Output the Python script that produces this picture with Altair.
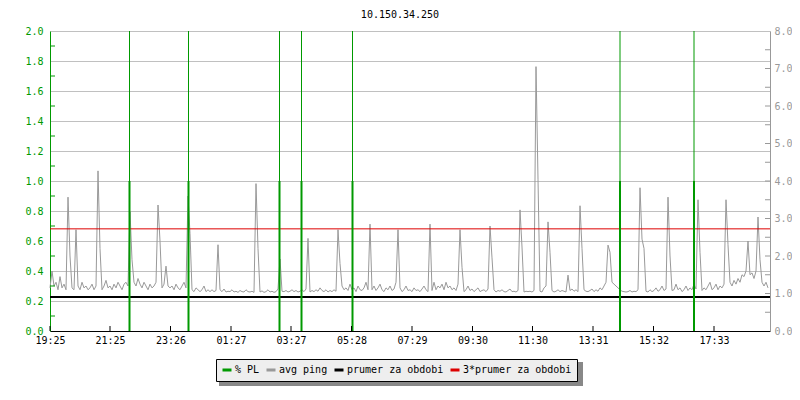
import altair as alt
import pandas as pd

# ---------------- data ----------------
title_text = "10.150.34.250"
series_names = ["% PL", "avg ping", "prumer za obdobi", "3*prumer za obdobi"]
series_colors = ["#009900", "#999999", "#000000", "#dd0000"]

# avg ping (ms, right axis), one sample every 4 minutes from 19:25
ping_base = [
    1.15, 1.60, 1.20, 1.30, 1.10, 1.45, 1.15, 1.25, 1.10, 1.20, 1.30, 1.15, 1.10, 1.25, 1.20, 1.10, 1.30, 1.15, 1.20, 1.10,
    1.15, 1.25, 1.10, 1.20, 1.30, 1.15, 1.10, 1.20, 1.35, 1.15, 1.20, 1.10, 1.25, 1.15, 1.30, 1.20, 1.10, 1.25, 1.30, 1.20,
    1.35, 1.25, 1.30, 1.20, 1.40, 1.25, 1.15, 1.30, 1.20, 1.10, 1.25, 1.15, 1.20, 1.30, 1.10, 1.20, 1.15, 1.25, 1.10, 1.20,
    1.15, 1.20, 1.10, 1.25, 1.15, 1.10, 1.20, 1.30, 1.15, 1.10, 1.20, 1.10, 1.05, 1.15, 1.10, 1.05, 1.10, 1.20, 1.05, 1.10,
    1.05, 1.10, 1.05, 1.08, 1.04, 1.10, 1.05, 1.12, 1.04, 1.06, 1.05, 1.10, 1.04, 1.06, 1.03, 1.08, 1.05, 1.04, 1.10, 1.05,
    1.04, 1.06, 1.03, 1.08, 1.05, 1.04, 1.07, 1.03, 1.05, 1.10, 1.04, 1.06, 1.03, 1.05, 1.12, 1.04, 1.06, 1.05, 1.08, 1.04,
    1.06, 1.10, 1.05, 1.08, 1.04, 1.06, 1.10, 1.05, 1.12, 1.06, 1.04, 1.08, 1.05, 1.10, 1.06, 1.15, 1.08, 1.05, 1.10, 1.04,
    1.08, 1.05, 1.10, 1.06, 1.12, 1.05, 1.20, 1.10, 1.15, 1.08, 1.25, 1.10, 1.15, 1.05, 1.20, 1.10, 1.08, 1.15, 1.30, 1.10,
    1.15, 1.10, 1.20, 1.08, 1.15, 1.25, 1.10, 1.05, 1.15, 1.10, 1.20, 1.08, 1.12, 1.30, 1.10, 1.15, 1.05, 1.10, 1.20, 1.08,
    1.10, 1.05, 1.15, 1.08, 1.10, 1.05, 1.12, 1.20, 1.10, 1.05, 1.15, 1.08, 1.30, 1.10, 1.20, 1.15, 1.25, 1.10, 1.30, 1.15,
    1.20, 1.10, 1.15, 1.08, 1.25, 1.10, 1.15, 1.05, 1.10, 1.20, 1.08, 1.12, 1.05, 1.10, 1.15, 1.05, 1.08, 1.10, 1.05, 1.12,
    1.08, 1.05, 1.10, 1.04, 1.08, 1.06, 1.10, 1.05, 1.04, 1.08, 1.12, 1.05, 1.06, 1.04, 1.08, 1.05, 1.10, 1.04, 1.06, 1.05,
    1.06, 1.04, 1.08, 1.05, 1.10, 1.06, 1.04, 1.15, 1.20, 1.10, 1.06, 1.08, 1.04, 1.06, 1.10, 1.05, 1.08, 1.06, 1.04, 1.10,
    1.08, 1.12, 1.06, 1.10, 1.05, 1.08, 1.04, 1.10, 1.06, 1.05, 1.08, 1.12, 1.05, 1.10, 1.06, 1.15, 1.10, 1.20, 1.30, 1.25,
    1.40, 1.30, 1.25, 1.20, 1.15, 1.10, 1.06, 1.05, 1.04, 1.05, 1.08, 1.04, 1.06, 1.05, 1.10, 1.04, 1.08, 1.05, 1.06, 1.04,
    1.10, 1.05, 1.08, 1.15, 1.06, 1.10, 1.20, 1.08, 1.12, 1.05, 1.15, 1.08, 1.10, 1.25, 1.10, 1.15, 1.05, 1.10, 1.20, 1.08,
    1.15, 1.10, 1.25, 1.12, 1.10, 1.20, 1.08, 1.15, 1.10, 1.20, 1.30, 1.10, 1.15, 1.25, 1.10, 1.20, 1.15, 1.25, 1.30, 1.20,
    1.30, 1.20, 1.35, 1.25, 1.40, 1.30, 1.50, 1.45, 1.60, 1.80, 1.50, 1.55, 1.40, 1.60, 1.35, 1.45, 1.30, 1.20, 1.30, 1.15,
]
# ping spikes: sample index and value (ms)
spike_idx = [9, 10, 13, 24, 25, 40, 41, 54, 55, 58, 69, 70, 84, 103, 104, 115, 129, 144, 145,
             160, 174, 190, 205, 206, 220, 221, 235, 236, 243, 244, 249, 250, 259, 265, 266,
             279, 280, 295, 296, 297, 309, 310, 324, 325, 338, 339, 349, 354, 355]
spike_ms = [3.57, 2.00, 2.70, 4.27, 2.20, 3.18, 1.90, 3.36, 2.40, 1.73, 3.60, 2.60, 2.30, 3.93, 2.20, 1.92, 2.47, 2.70, 1.80,
            2.85, 2.70, 2.85, 2.70, 1.70, 2.80, 1.95, 3.23, 2.24, 7.05, 4.05, 2.91, 2.10, 1.49, 3.34, 2.20,
            2.29, 2.10, 3.82, 2.45, 2.20, 3.57, 2.00, 3.50, 2.10, 3.50, 2.30, 2.40, 3.04, 1.90]

# packet loss events
pl_times = ["2024-01-01T22:04:00", "2024-01-02T00:02:00", "2024-01-02T03:04:00", "2024-01-02T03:48:00",
            "2024-01-02T05:30:00", "2024-01-02T14:25:00", "2024-01-02T16:53:00"]
pl_bar = [1.0, 1.0, 1.0, 1.0, 1.0, 1.0, 1.0]
pl_line = [2.0, 2.0, 2.0, 2.0, 2.0, 2.0, 2.0]

prumer = 0.227

# x tick labels (day, hour, minute)
x_ticks = [(1, 19, 25), (1, 21, 25), (1, 23, 26), (2, 1, 27), (2, 3, 27), (2, 5, 28),
           (2, 7, 29), (2, 9, 30), (2, 11, 30), (2, 13, 31), (2, 15, 32), (2, 17, 33)]
left_ticks = [0.0, 0.2, 0.4, 0.6, 0.8, 1.0, 1.2, 1.4, 1.6, 1.8, 2.0]
left_minor = [0.1, 0.3, 0.5, 0.7, 0.9, 1.1, 1.3, 1.5, 1.7, 1.9]
right_ticks = [0, 1, 2, 3, 4, 5, 6, 7, 8]
right_minor = [0.5, 1.0, 1.5, 2.0, 2.5, 3.0, 3.5, 4.0, 4.5, 5.0, 5.5, 6.0, 6.5, 7.0, 7.5]

# ---------------- tables ----------------
ping_vals = list(ping_base)
for i, v in zip(spike_idx, spike_ms):
    ping_vals[i] = v
times = pd.date_range("2024-01-01 19:25", periods=len(ping_vals), freq="4min").strftime("%Y-%m-%dT%H:%M:%S")
df_ping = pd.DataFrame({"t": times, "ms": ping_vals, "series": "avg ping"})
df_pl = pd.DataFrame({"t": pl_times, "bar": pl_bar, "line": pl_line, "zero": 0.0, "series": "% PL"})
df_avg = pd.DataFrame({"y": [prumer], "series": ["prumer za obdobi"]})
df_avg3 = pd.DataFrame({"y": [3 * prumer], "series": ["3*prumer za obdobi"]})
df_lminor = pd.DataFrame({"y": left_minor})
df_rminor = pd.DataFrame({"y": right_minor})
tick_dts = [alt.DateTime(year=2024, month=1, date=d, hours=h, minutes=m) for d, h, m in x_ticks]
df_xticks = pd.DataFrame({"t": [f"2024-01-0{d}T{h:02d}:{m:02d}:00" for d, h, m in x_ticks]})
df_shadow = pd.DataFrame({"k": [0]})

FONT = "DejaVu Sans Mono"
W, H = 720, 300
LEG_X, LEG_Y = 166, 328
LEG_W, LEG_H = 364, 24

x_scale = alt.Scale(domain=[alt.DateTime(year=2024, month=1, date=1, hours=19, minutes=25),
                            alt.DateTime(year=2024, month=1, date=2, hours=19, minutes=25)])
x_axis = alt.Axis(values=tick_dts, format="%H:%M", title=None, grid=False, ticks=False,
                  labelFont=FONT, labelFontSize=10, labelColor="#000000", domainColor="#000000",
                  labelPadding=4, labelFlush=False, labelOverlap=False)
x_enc = alt.X("t:T", scale=x_scale, axis=x_axis)
left_scale = alt.Scale(domain=[0, 2], nice=False, zero=True)
right_scale = alt.Scale(domain=[0, 8], nice=False, zero=True)

legend = alt.Legend(title=None, orient="none", legendX=LEG_X, legendY=LEG_Y, direction="horizontal",
                    columns=4, symbolType="stroke", symbolSize=81, symbolStrokeWidth=3,
                    labelFont=FONT, labelFontSize=10, labelColor="#000000", labelOffset=2,
                    columnPadding=0, padding=5, fillColor="#eeeeee", strokeColor="#000000")
color_enc = alt.Color("series:N", scale=alt.Scale(domain=series_names, range=series_colors), legend=legend)

shadow = alt.Chart(df_shadow).mark_rect(color="#888888").encode(
    x=alt.value(LEG_X + 3), x2=alt.value(LEG_X + 3 + LEG_W),
    y=alt.value(LEG_Y + 3), y2=alt.value(LEG_Y + 3 + LEG_H))

ping = alt.Chart(df_ping).mark_line(strokeWidth=1, interpolate="linear").encode(
    x=x_enc,
    y=alt.Y("ms:Q", scale=right_scale,
            axis=alt.Axis(orient="right", values=right_ticks, format=".1f", title=None, grid=False,
                          ticks=False, labelFont=FONT, labelFontSize=10, labelColor="#999999",
                          domainColor="#999999", labelPadding=4)),
    color=color_enc)

avg = alt.Chart(df_avg).mark_rule(strokeWidth=2).encode(
    y=alt.Y("y:Q", scale=left_scale,
            axis=alt.Axis(values=left_ticks, format=".1f", title=None, grid=True, gridColor="#c0c0c0",
                          ticks=False, labelFont=FONT, labelFontSize=10, labelColor="#009900",
                          domainColor="#009900", labelPadding=7)),
    color=color_enc)

avg3 = alt.Chart(df_avg3).mark_rule(strokeWidth=1).encode(
    y=alt.Y("y:Q", scale=left_scale, axis=None), color=color_enc)

pl_thin = alt.Chart(df_pl).mark_rule(strokeWidth=1).encode(
    x=x_enc, y=alt.Y("line:Q", scale=left_scale, axis=None), y2="zero:Q", color=color_enc)
pl_thick = alt.Chart(df_pl).mark_rule(strokeWidth=2).encode(
    x=x_enc, y=alt.Y("bar:Q", scale=left_scale, axis=None), y2="zero:Q", color=color_enc)

lminor = alt.Chart(df_lminor).mark_rule(color="#009900", strokeWidth=1).encode(
    y=alt.Y("y:Q", scale=left_scale, axis=None), x=alt.value(0), x2=alt.value(5))
rminor = alt.Chart(df_rminor).mark_rule(color="#999999", strokeWidth=1).encode(
    y=alt.Y("y:Q", scale=right_scale, axis=None), x=alt.value(W - 5), x2=alt.value(W))
xminor = alt.Chart(df_xticks).mark_rule(color="#000000", strokeWidth=1).encode(
    x=x_enc, y=alt.value(H - 5), y2=alt.value(H))

chart = alt.layer(
    shadow, avg, ping, avg3, pl_thin, pl_thick, lminor, rminor, xminor
).resolve_scale(y="independent").properties(
    width=W, height=H,
    title=alt.Title(title_text, font=FONT, fontSize=10, fontWeight="normal", color="#000000",
                    anchor="middle", offset=6, dx=-10),
    autosize=alt.AutoSizeParams(type="none"),
    padding={"left": 42, "top": 23, "right": 22, "bottom": 61},
).configure_view(stroke=None)

chart.save("out.html", embed_options={"renderer": "svg", "actions": False})
